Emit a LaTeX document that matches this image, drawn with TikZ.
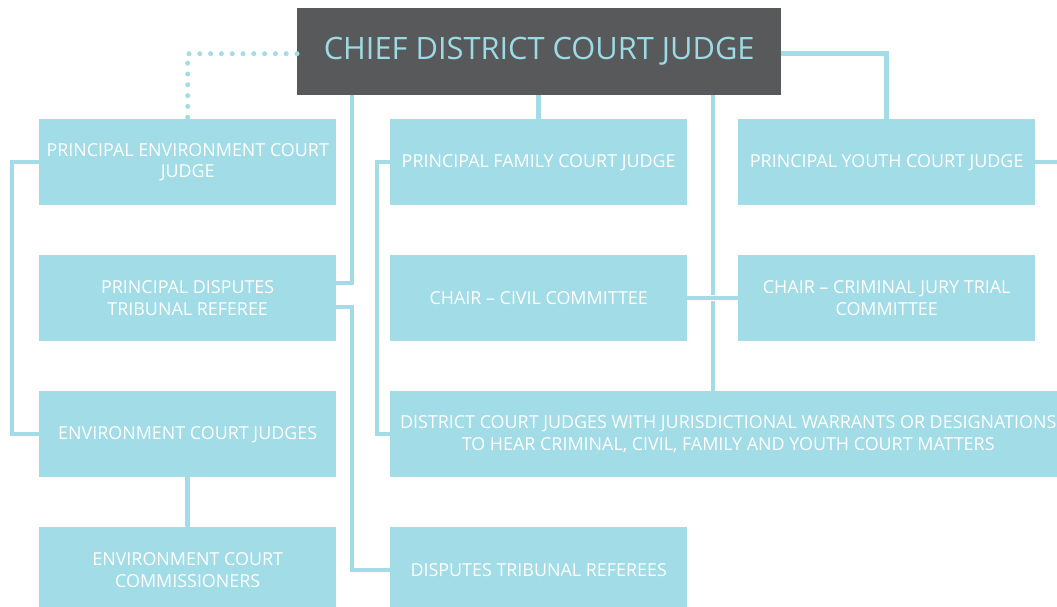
\documentclass[tikz,border=0pt]{standalone}
\usepackage{fontspec}
\setmainfont{Open Sans}
\usetikzlibrary{calc}
\definecolor{linkblue}{HTML}{A1DCE7}
\definecolor{chiefgrey}{HTML}{58595B}
\definecolor{chieftext}{HTML}{9DDAE5}

\begin{document}
\begin{tikzpicture}[x=1pt,y=-1pt,
    box/.style={fill=linkblue, text=white, anchor=north west, inner sep=0pt,
      minimum width=297pt, minimum height=86pt, align=center,
      font=\fontsize{17.9}{21.5}\selectfont},
    chiefbox/.style={fill=chiefgrey, text=chieftext, anchor=north west, inner sep=0pt,
      minimum width=484pt, minimum height=87pt,
      font=\fontsize{30.8}{34}\selectfont},
    link/.style={draw=linkblue, line width=4.5pt, line join=miter,
      preaction={draw=white, line width=6.5pt}},
    dotlink/.style={draw=linkblue, line width=5pt, line cap=round,
      dash pattern=on 0pt off 10.8pt}]
    \useasboundingbox (0,0) rectangle (1057,607);
    \clip (0,0) rectangle (1057,607);

    % boxes
    \node[chiefbox] (chief) at (297,8) {CHIEF DISTRICT COURT JUDGE};

    \node[box] (penv) at (39,119) {PRINCIPAL ENVIRONMENT COURT\\JUDGE};
    \node[box] (pfam) at (390,119) {PRINCIPAL FAMILY COURT JUDGE};
    \node[box] (pyouth) at (738,119) {PRINCIPAL YOUTH COURT JUDGE};

    \node[box] (pdtr) at (39,255) {PRINCIPAL DISPUTES\\TRIBUNAL REFEREE};
    \node[box] (civil) at (390,255) {CHAIR -- CIVIL COMMITTEE};
    \node[box] (crimjury) at (738,255) {CHAIR -- CRIMINAL JURY TRIAL\\COMMITTEE};

    \node[box] (envj) at (39,391) {ENVIRONMENT COURT JUDGES};
    \node[box, minimum width=676pt] (dcj) at (390,391)
      {DISTRICT COURT JUDGES WITH JURISDICTIONAL WARRANTS OR DESIGNATIONS\\
       TO HEAR CRIMINAL, CIVIL, FAMILY AND YOUTH COURT MATTERS};

    \node[box] (envc) at (39,527) {ENVIRONMENT COURT\\COMMISSIONERS};
    \node[box] (dtr) at (390,527) {DISPUTES TRIBUNAL REFEREES};

    % buses
    \coordinate (busE) at (12,0);
    \coordinate (busL) at (352,0);
    \coordinate (busF) at (377,0);
    \coordinate (busR) at (713,0);
    \coordinate (rimR) at (1062,0);

    % connectors
    \draw[dotlink] ([yshift=-2pt]chief.west) -| (penv.north);
    \draw[link] (chief.south -| busL) |- ([yshift=15pt]pdtr.east);
    \draw[link] (chief.south -| pfam.north) -- (pfam.north);
    \draw[link] (chief.south -| busR) -- (dcj.north -| busR);
    \draw[link] ([yshift=-2pt]chief.east) -| (pyouth.north);
    \draw[link] (pyouth.east) -- (pyouth.east -| rimR);
    \draw[link] (civil.east) -- (crimjury.west);
    \draw[link] (penv.west) -- (penv.west -| busE) |- (envj.west);
    \draw[link] (pfam.west) -- (pfam.west -| busF) |- (dcj.west);
    \draw[link] ([yshift=-9pt]pdtr.east) -- ([yshift=-9pt]pdtr.east -| busL) |- (dtr.west);
    \draw[link] (envj.south) -- (envc.north);
\end{tikzpicture}
\end{document}
